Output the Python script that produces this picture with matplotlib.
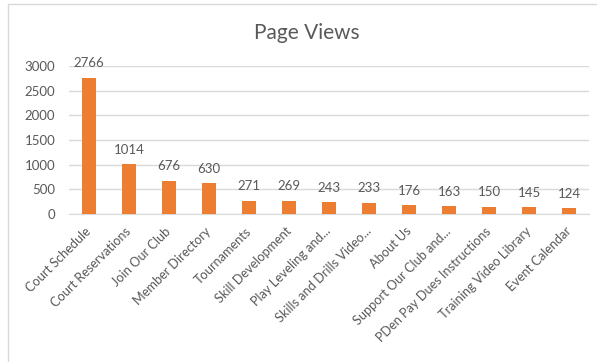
import matplotlib.pyplot as plt
from matplotlib.patches import Rectangle

pages = ["Court Schedule", "Court Reservations", "Join Our Club", "Member Directory",
         "Tournaments", "Skill Development", "Play Leveling and...",
         "Skills and Drills Video...", "About Us", "Support Our Club and...",
         "PDen Pay Dues Instructions", "Training Video Library", "Event Calendar"]
views = [2766, 1014, 676, 630, 271, 269, 243, 233, 176, 163, 150, 145, 124]
yticks = [0, 500, 1000, 1500, 2000, 2500, 3000]

bar_color = "#ED7D31"
text_color = "#595959"
plt.rcParams["font.family"] = ["Lato", "DejaVu Sans"]

fig = plt.figure(figsize=(5.97, 3.62), dpi=100)
# chart frame
fig.patches.append(Rectangle((8 / 597, -0.1), 1.2, 1 - 4 / 362 + 0.1, transform=fig.transFigure,
                             fill=False, edgecolor="#D9D9D9", linewidth=1))
ax = fig.add_axes([69 / 597, 1 - 214 / 362, 520 / 597, 148 / 362])

x = range(len(pages))
ax.bar(x, views, width=0.34, color=bar_color, zorder=3)
for xi, v in zip(x, views):
    ax.annotate(str(v), (xi, v), xytext=(0, 6), textcoords="offset points",
                ha="center", va="bottom", fontsize=9.5, color=text_color)

ax.set_xlim(-0.5, len(pages) - 0.5)
ax.set_ylim(0, 3000)
ax.set_yticks(yticks)
ax.set_yticklabels([str(t) for t in yticks], fontsize=9.5, color=text_color)
ax.yaxis.grid(True, color="#D9D9D9", linewidth=1, zorder=0)
ax.set_xticks(list(x))
ax.set_xticklabels(pages, rotation=45, ha="right", va="center", rotation_mode="anchor",
                   fontsize=9.2, color=text_color)
ax.tick_params(axis="y", length=0, pad=10)
ax.tick_params(axis="x", length=0, pad=11)
for side in ["top", "right", "left"]:
    ax.spines[side].set_visible(False)
ax.spines["bottom"].set_color("#D9D9D9")
ax.set_axisbelow(True)

fig.text(307 / 597, 1 - 33 / 362, "Page Views", ha="center", va="center",
         fontsize=15, color=text_color)

fig.savefig("out.png", dpi=100)
plt.close()
